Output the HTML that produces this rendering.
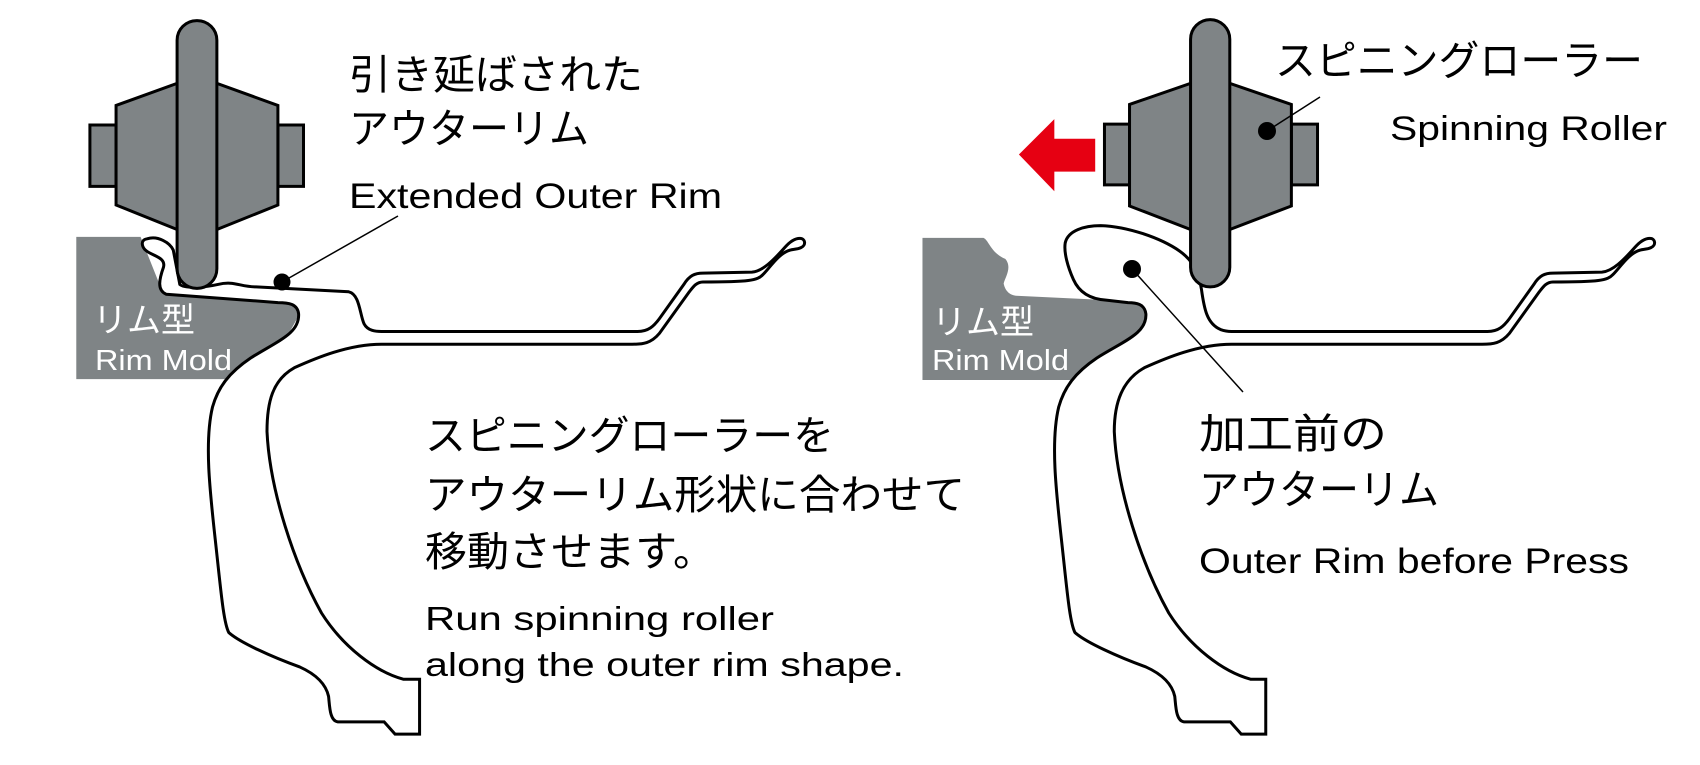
<!DOCTYPE html>
<html><head><meta charset="utf-8"><style>
html,body{margin:0;padding:0;background:#fff;}
svg{display:block}
text{font-family:"Liberation Sans","Noto Sans CJK JP",sans-serif;fill:#000}
</style></head><body>
<svg width="1700" height="765" viewBox="0 0 1700 765" xmlns="http://www.w3.org/2000/svg">
<!-- LEFT -->
<g transform="scale(0.5449,0.4904)">
  <polygon points="140,483 258,483 300,600 530,615 550,640 520,700 430,773 140,773" fill="#7f8486" stroke="none"/>
  <path vector-effect="non-scaling-stroke" fill="#fff" stroke="#000" stroke-width="3" d="M 270,487 C 290,480 312,495 318,510 L 330,580 C 340,590 380,585 400,580 C 430,572 440,585 470,585 L 640,595 C 660,600 660,640 668,660 C 675,675 690,676 700,676 L 1170,676 C 1190,676 1200,665 1210,650 L 1255,580 C 1265,562 1275,557 1290,557 L 1380,555 C 1400,553 1420,530 1440,505 C 1450,492 1460,486 1468,486 C 1478,486 1480,500 1470,505 C 1462,509 1455,508 1450,510 C 1430,515 1410,550 1400,560 C 1390,572 1375,575 1290,575 C 1278,575 1272,585 1265,595 L 1210,680 C 1195,700 1180,702 1160,702 L 700,702 C 640,702 580,730 540,750 C 500,775 490,820 490,880 C 495,1000 540,1150 590,1250 C 630,1320 690,1370 740,1385 L 770,1385 L 770,1497 L 725,1497 L 705,1472 L 620,1472 C 605,1470 605,1440 603,1420 C 598,1395 580,1375 550,1360 C 500,1340 440,1310 420,1290 C 410,1270 405,1200 395,1100 C 385,1000 375,900 390,830 C 400,790 420,760 460,730 C 510,695 550,680 548,640 C 546,620 530,617 510,617 L 305,600 C 288,592 292,570 300,545 C 306,520 268,522 262,502 C 259,492 264,488 270,487 Z"/>
  <rect vector-effect="non-scaling-stroke" x="165" y="255" width="48" height="125" fill="#7f8486" stroke="#000" stroke-width="3"/>
  <rect vector-effect="non-scaling-stroke" x="510" y="255" width="47" height="125" fill="#7f8486" stroke="#000" stroke-width="3"/>
  <polygon vector-effect="non-scaling-stroke" points="213,215 325,170 398,170 510,215 510,418 398,468 325,468 213,418" fill="#7f8486" stroke="#000" stroke-width="3"/>
  <rect vector-effect="non-scaling-stroke" x="325" y="42" width="73" height="546" rx="36" ry="40" fill="#7f8486" stroke="#000" stroke-width="3"/>
</g>
<line x1="282" y1="282" x2="398" y2="216" stroke="#000" stroke-width="1.5"/>
<circle cx="282" cy="282" r="8.5" fill="#000"/>
<!-- RIGHT -->
<g transform="translate(850,0) scale(0.5449,0.4904)">
  <path d="M 133,485 L 245,485 C 255,490 258,515 285,528 C 298,545 285,565 282,578 C 285,595 295,602 305,603 L 530,615 L 550,640 L 520,700 L 430,760 L 410,775 L 133,775 Z" fill="#7f8486"/>
  <path vector-effect="non-scaling-stroke" fill="#fff" stroke="#000" stroke-width="3" d="M 510,617 L 470,612 C 440,610 420,595 410,570 C 400,545 392,515 395,495 C 400,470 430,460 460,460 C 510,462 570,485 605,512 C 630,532 640,555 645,590 C 650,630 655,660 680,672 C 690,676 695,676 700,676 L 1170,676 C 1190,676 1200,665 1210,650 L 1255,580 C 1265,562 1275,557 1290,557 L 1380,555 C 1400,553 1420,530 1440,505 C 1450,492 1460,486 1468,486 C 1478,486 1480,500 1470,505 C 1462,509 1455,508 1450,510 C 1430,515 1410,550 1400,560 C 1390,572 1375,575 1290,575 C 1278,575 1272,585 1265,595 L 1210,680 C 1195,700 1180,702 1160,702 L 700,702 C 640,702 580,730 540,750 C 500,775 485,820 485,880 C 490,1000 535,1150 585,1250 C 625,1320 685,1370 735,1385 L 763,1385 L 763,1497 L 718,1497 L 698,1472 L 613,1472 C 598,1470 598,1440 596,1420 C 591,1395 573,1375 543,1360 C 493,1340 433,1310 413,1290 C 403,1270 398,1200 388,1100 C 378,1000 368,900 383,830 C 393,790 413,760 453,730 C 503,695 545,680 543,640 C 541,620 525,617 510,617 Z"/>
  <polygon points="310,315 375,243 375,283 450,283 450,350 375,350 375,390" fill="#e60012"/>
  <rect vector-effect="non-scaling-stroke" x="467" y="253" width="46" height="124" fill="#7f8486" stroke="#000" stroke-width="3"/>
  <rect vector-effect="non-scaling-stroke" x="810" y="253" width="48" height="124" fill="#7f8486" stroke="#000" stroke-width="3"/>
  <polygon vector-effect="non-scaling-stroke" points="513,213 625,170 697,170 810,213 810,420 697,468 625,468 513,420" fill="#7f8486" stroke="#000" stroke-width="3"/>
  <rect vector-effect="non-scaling-stroke" x="625" y="40" width="72" height="545" rx="36" ry="40" fill="#7f8486" stroke="#000" stroke-width="3"/>
</g>
<line x1="1267" y1="131" x2="1320" y2="97" stroke="#000" stroke-width="1.5"/>
<circle cx="1267" cy="131" r="9" fill="#000"/>
<line x1="1132" y1="269" x2="1243" y2="392" stroke="#000" stroke-width="1.5"/>
<circle cx="1132" cy="269" r="9" fill="#000"/>
<!-- TEXT -->
<text x="349" y="89" font-size="41" textLength="294" lengthAdjust="spacingAndGlyphs">引き延ばされた</text>
<text x="349" y="143" font-size="41" textLength="240" lengthAdjust="spacingAndGlyphs">アウターリム</text>
<text x="349" y="208" font-size="35" textLength="373" lengthAdjust="spacingAndGlyphs">Extended Outer Rim</text>
<text x="93" y="332" font-size="34" style="fill:#fff" textLength="102" lengthAdjust="spacingAndGlyphs">リム型</text>
<text x="95" y="370" font-size="29" style="fill:#fff" textLength="137" lengthAdjust="spacingAndGlyphs">Rim Mold</text>
<text x="932" y="334" font-size="34" style="fill:#fff" textLength="102" lengthAdjust="spacingAndGlyphs">リム型</text>
<text x="932" y="370" font-size="29" style="fill:#fff" textLength="137" lengthAdjust="spacingAndGlyphs">Rim Mold</text>
<text x="425" y="450" font-size="41" textLength="409" lengthAdjust="spacingAndGlyphs">スピニングローラーを</text>
<text x="425" y="509" font-size="41" textLength="540" lengthAdjust="spacingAndGlyphs">アウターリム形状に合わせて</text>
<text x="425" y="566" font-size="41" textLength="290" lengthAdjust="spacingAndGlyphs">移動させます。</text>
<text x="425" y="630" font-size="33" textLength="349" lengthAdjust="spacingAndGlyphs">Run spinning roller</text>
<text x="425" y="676" font-size="33" textLength="479" lengthAdjust="spacingAndGlyphs">along the outer rim shape.</text>
<text x="1275" y="75" font-size="41" textLength="368" lengthAdjust="spacingAndGlyphs">スピニングローラー</text>
<text x="1390" y="140" font-size="34" textLength="277" lengthAdjust="spacingAndGlyphs">Spinning Roller</text>
<text x="1199" y="448" font-size="41" textLength="188" lengthAdjust="spacingAndGlyphs">加工前の</text>
<text x="1199" y="504" font-size="41" textLength="240" lengthAdjust="spacingAndGlyphs">アウターリム</text>
<text x="1199" y="573" font-size="35" textLength="430" lengthAdjust="spacingAndGlyphs">Outer Rim before Press</text>
</svg>
</body></html>
